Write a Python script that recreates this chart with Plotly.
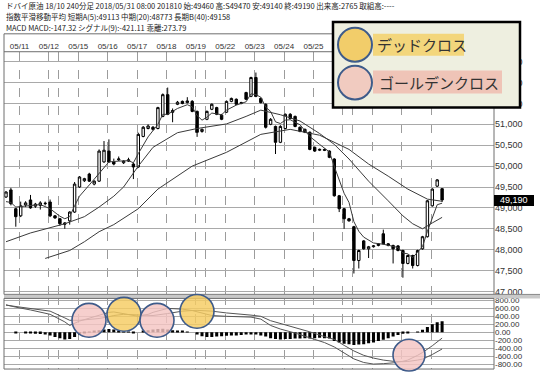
import plotly.graph_objects as go

W, H = 540, 378

# ---------------- data ----------------
bar_index = list(range(90))
opens = [49260,49430,48980,48810,49070,49190,49040,49060,49100,49140,
         48810,48740,48640,48690,48900,49500,49650,49810,49570,49640,
         50100,50360,50100,50150,50080,50120,50050,49980,50710,50900,
         50930,50900,51190,51710,51330,51480,51550,51520,51550,51310,
         50830,51120,51360,51400,51220,51290,51550,51600,51500,51760,
         51670,52120,51620,51480,51000,50950,50570,50900,51240,51190,
         50930,50880,50810,50450,50380,50400,50360,50170,49290,48980,
         48740,48550,47740,48210,48020,48070,48100,48380,48140,48100,
         48090,47980,47670,47860,47620,48020,48310,49050,49520,49460]
highs = [49400,49480,49000,49150,49160,49310,49120,49160,49150,49200,
         48830,48760,48660,48920,49620,49760,49720,49840,49660,50400,
         50600,50640,50180,50230,50140,50200,50080,50800,50960,51000,
         50960,51420,51740,51880,51380,51560,51570,51650,51580,51330,
         50900,51330,51500,51420,51250,51570,51640,51620,51540,51780,
         52140,52240,51640,51500,51150,50970,50980,51260,51270,51210,
         50950,50900,50830,50470,50420,50420,50380,50190,49310,49000,
         48760,48570,48000,48230,48090,48110,48160,48480,48160,48120,
         48110,48000,47880,47880,48000,48330,49190,49470,49690,49470]
lows = [49240,49060,48550,48780,49020,48980,49000,48960,49060,48780,
        48740,48570,48500,48600,48880,49480,49620,49620,49540,49620,
        50080,50080,50020,50120,50050,50100,49690,49960,50690,50880,
        50850,50880,51170,51220,51050,51460,51480,51500,51290,50700,
        50800,51100,51340,51220,51100,51270,51530,51460,51480,51580,
        51650,51650,51500,50900,50980,50290,50550,50880,51120,50930,
        50810,50790,50380,50340,50360,50360,50190,49270,48900,48500,
        48670,47430,47550,48000,47800,48050,48080,48120,48080,47670,
        47960,47330,47650,47550,47600,48000,48290,49030,49500,49140]
closes = [49380,49100,48790,49050,49120,49000,49090,49120,49110,48810,
          48760,48620,48610,48900,49570,49740,49700,49640,49640,50360,
          50380,50100,50050,50170,50120,50150,49980,50760,50930,50960,
          50880,51400,51710,51240,51290,51530,51500,51560,51310,50810,
          50880,51310,51480,51240,51120,51550,51620,51480,51520,51600,
          52120,51670,51520,50930,51120,50570,50950,51240,51140,50950,
          50830,50810,50400,50360,50400,50380,50210,49290,48980,48740,
          48690,47740,47980,48020,48070,48090,48140,48140,48100,48020,
          47980,47670,47860,47620,47980,48310,49170,49450,49670,49190]

ema5_idx = [0,1,2,3,5,7,9,11,12,13,14,15,17,19,21,23,25,26,27,29,31,32,33,35,37,38,39,40,
            41,42,44,45,47,49,50,51,52,53,54,55,56,57,58,60,62,64,66,67,68,69,70,71,72,73,
            75,77,79,80,81,82,83,84,85,86,87,88,89]
ema5_val = [49150,49130,49020,49030,49050,49080,48980,48800,48740,48790,49050,49280,49550,
            49820,50100,50120,50130,50080,50300,50700,51000,51240,51240,51380,51470,51420,
            51210,51100,51170,51270,51230,51340,51460,51540,51730,51710,51650,51410,51310,
            51060,51020,51100,51110,50990,50710,50520,50340,49990,49650,49350,49130,48670,
            48440,48300,48160,48130,48080,48050,47920,47900,47810,47955,48073,48439,48776,
            49075,49113]

ema20_idx = [0,5,12,16,19,22,24,27,30,35,39,45,49,52,56,60,64,67,70,74,78,81,83,85,87,89]
ema20_val = [48190,48400,48620,48790,49020,49280,49500,50000,50450,50800,50900,51010,51190,
             51340,51230,51080,50780,50520,50170,49640,49170,48810,48620,48500,48640,48773]

ema40_idx = [8,13,16,19,22,27,31,38,45,52,58,64,70,74,78,82,86,89]
ema40_val = [47790,47980,48190,48430,48600,48980,49450,50000,50330,50760,50880,50740,
             50400,50050,49760,49450,49210,49158]

macd_idx = [0,2,5,9,12,13,15,17,19,21,22,24,26,27,29,30,33,36,38,39,42,45,50,52,54,56,59,
            62,65,67,69,71,73,75,77,79,81,82,84,85,87,89]
macd_val = [690,630,560,450,260,170,280,350,420,500,510,460,410,400,450,500,600,580,545,510,
            420,400,380,330,170,80,-20,-140,-260,-370,-530,-670,-760,-800,-790,-770,-730,
            -700,-580,-510,-340,-147.32]
signal_val = [680,645,610,530,360,300,300,320,345,390,420,450,440,420,410,420,470,530,545,550,
              530,485,430,400,290,220,120,10,-110,-180,-330,-470,-580,-650,-700,-730,-740,
              -735,-700,-675,-560,-421.11]
hist_val = [0,0,-20,0,-30,-35,-40,-45,-55,-80,
            -120,-150,-180,-170,-120,-60,-20,10,30,50,
            70,80,70,40,20,10,-20,0,30,50,
            70,80,90,70,50,40,30,20,0,-60,
            -100,-120,-120,-110,-100,-90,-80,-80,-70,-60,
            -60,-60,-80,-110,-150,-170,-180,-170,-170,-160,
            -160,-150,-160,-150,-140,-150,-160,-220,-260,-290,
            -300,-320,-310,-300,-280,-260,-220,-190,-150,-110,
            -70,-40,-10,0,20,60,130,200,250,273.79]

# day separators (labels for the days hidden behind the legend box are blank)
day_ticks = [2.75,8.75,10.75,14.75,20.75,26.75,32.75,38.75,40.75,44.75,50.75,56.75,62.75,
             68.75,70.75,74.75,80.75,86.75]
day_text = ["05/11","05/12","","05/15","05/16","05/17","05/18","05/19","","05/22","05/23",
            "05/24","05/25","","","","",""]

price_ticks = [47000,47500,48000,48500,49000,49500,50000,50500,51000,51500,52000,52500]
macd_ticks = [-800,-600,-400,-200,0,200,400,600,800]
macd_tick_text = ["-800.00","-600.00","-400.00","-200.00","0.00","200.00","400.00","600.00","800.00"]

header = ["ドバイ原油 18/10 240分足 2018/05/31 08:00 201810 始:49460 高:S49470 安:49140 終:49190 出来高:2765 取組高:----",
          "指数平滑移動平均 短期A(5):49113 中期(20):48773 長期B(40):49158",
          "MACD MACD:-147.32 シグナル(9):-421.11 乖離:273.79"]
last_price = 49190

# ---------------- geometry helpers ----------------
def fx(p):
    return p / W

def fy(p):
    return 1 - p / H

PL, PR = 4, 494
MT, MB = 52, 296
DT, DB = 298, 371
x_range = [(PL - 6) / 4.9, (PR - 6) / 4.9]
main_range = [47000 - (MB - 293) * 500 / 21, 47000 + (293 - MT) * 500 / 21]
macd_range = [-(DB - 334) * 25, (334 - DT) * 25]

JP = "Noto Sans CJK JP"
NUM = "Liberation Sans"
LINE_C = "#3a3a3a"

fig = go.Figure()
fig.add_trace(go.Candlestick(
    x=bar_index, open=opens, high=highs, low=lows, close=closes,
    xaxis="x", yaxis="y", whiskerwidth=0,
    increasing=dict(line=dict(color="black", width=1), fillcolor="white"),
    decreasing=dict(line=dict(color="black", width=1), fillcolor="black"),
    showlegend=False, hoverinfo="skip"))
for xi, yv in [(ema40_idx, ema40_val), (ema20_idx, ema20_val), (ema5_idx, ema5_val)]:
    fig.add_trace(go.Scatter(x=xi, y=yv, mode="lines", xaxis="x", yaxis="y",
                             line=dict(color=LINE_C, width=1), showlegend=False, hoverinfo="skip"))
fig.add_trace(go.Bar(x=bar_index, y=hist_val, xaxis="x2", yaxis="y2", width=0.62,
                     marker=dict(color="black", line=dict(width=0)), showlegend=False, hoverinfo="skip"))
fig.add_trace(go.Scatter(x=macd_idx, y=signal_val, mode="lines", xaxis="x2", yaxis="y2",
                         line=dict(color="#555555", width=1), showlegend=False, hoverinfo="skip"))
fig.add_trace(go.Scatter(x=macd_idx, y=macd_val, mode="lines", xaxis="x2", yaxis="y2",
                         line=dict(color="#555555", width=1), showlegend=False, hoverinfo="skip"))

shapes = []
def rect(x0, y0, x1, y1, fill=None, line=None, width=1, layer="above"):
    shapes.append(dict(type="rect", xref="paper", yref="paper",
                       x0=fx(x0), x1=fx(x1), y0=fy(y1), y1=fy(y0),
                       fillcolor=fill if fill else "rgba(0,0,0,0)",
                       line=dict(color=line if line else "rgba(0,0,0,0)", width=width if line else 0),
                       layer=layer))

def hline(x0, x1, y, color, width=1):
    shapes.append(dict(type="line", xref="paper", yref="paper", x0=fx(x0), x1=fx(x1),
                       y0=fy(y), y1=fy(y), line=dict(color=color, width=width), layer="above"))

def circle(cx, cy, r, fill, line="#3e5b8a", width=1.6):
    shapes.append(dict(type="circle", xref="paper", yref="paper",
                       x0=fx(cx - r), x1=fx(cx + r), y0=fy(cy + r), y1=fy(cy - r),
                       fillcolor=fill, line=dict(color=line, width=width), layer="above"))

# frames
rect(PL, 34, PR, MB, line="#6e6e6e")
hline(PL, PR, MT, "#6e6e6e")
rect(PL, MB, 540, DT + 2, fill="#c9c9c9")
hline(PL, 540, MB, "#8a8a8a")
rect(PL, DT + 2, PR, DB, line="#6e6e6e")

# MACD cross markers
YEL = "rgba(245,204,98,0.82)"
PNK = "rgba(244,196,194,0.82)"
circle(89, 322, 17, PNK)
circle(124, 316, 17, YEL)
circle(157, 322, 17, PNK)
circle(197, 313, 17, YEL)
circle(409, 357, 16, PNK)

# current price tag
rect(494, 196, 534, 207, fill="black")

# legend box
rect(333, 22, 520, 108, fill="#eeefe0", line="black", width=2.5)
rect(373, 34, 464, 56, fill="#f3d67c")
rect(373, 71, 502, 94, fill="#efc4b7")
circle(355, 45, 17, "#f2cd6a", width=2)
circle(355, 83, 17, "#f1cbc0", width=2)

annotations = []
for i, t in enumerate(header):
    annotations.append(dict(text=t, x=fx(4), y=fy(6 + 11 * i), xref="paper", yref="paper",
                            xanchor="left", yanchor="middle", showarrow=False,
                            font=dict(family=JP, size=7.5, color="#222222")))
annotations.append(dict(text="デッドクロス", x=fx(375), y=fy(45), xref="paper", yref="paper",
                        xanchor="left", yanchor="middle", showarrow=False,
                        font=dict(family=JP, size=15, color="#333333")))
annotations.append(dict(text="ゴールデンクロス", x=fx(377), y=fy(82.5), xref="paper", yref="paper",
                        xanchor="left", yanchor="middle", showarrow=False,
                        font=dict(family=JP, size=15, color="#333333")))
annotations.append(dict(text=f"{last_price:,}", x=fx(514), y=fy(201.5), xref="paper", yref="paper",
                        xanchor="center", yanchor="middle", showarrow=False,
                        font=dict(family=NUM, size=9, color="white")))

grid_c = "#a9a9a9"
fig.update_layout(
    width=W, height=H, margin=dict(l=0, r=0, t=0, b=0),
    paper_bgcolor="white", plot_bgcolor="white", showlegend=False,
    xaxis=dict(domain=[fx(PL), fx(PR)], range=x_range, anchor="y", side="top",
               tickvals=day_ticks, ticktext=day_text, ticks="",
               tickfont=dict(family=NUM, size=8, color="#333333"),
               showgrid=True, gridcolor="#9c9c9c", griddash="dash", gridwidth=1,
               zeroline=False, showline=False, rangeslider=dict(visible=False), fixedrange=True),
    xaxis2=dict(domain=[fx(PL), fx(PR)], range=x_range, anchor="y2",
                tickvals=day_ticks, showticklabels=False, ticks="",
                showgrid=True, gridcolor="#9c9c9c", griddash="dash", gridwidth=1,
                zeroline=False, showline=False, fixedrange=True),
    yaxis=dict(domain=[fy(MB), fy(MT)], range=main_range, anchor="x", side="right",
               tickvals=price_ticks, tickformat=",d", ticks="",
               tickfont=dict(family=NUM, size=9, color="#333333"),
               showgrid=True, gridcolor=grid_c, gridwidth=1, zeroline=False, showline=False,
               fixedrange=True),
    yaxis2=dict(domain=[fy(DB), fy(DT)], range=macd_range, anchor="x2", side="right",
                tickvals=macd_ticks, ticktext=macd_tick_text, ticks="",
                tickfont=dict(family=NUM, size=8, color="#333333"),
                showgrid=True, gridcolor=grid_c, gridwidth=1, zeroline=False, showline=False,
                fixedrange=True),
    shapes=shapes, annotations=annotations, bargap=0.3,
)

fig.write_html("out.html")
